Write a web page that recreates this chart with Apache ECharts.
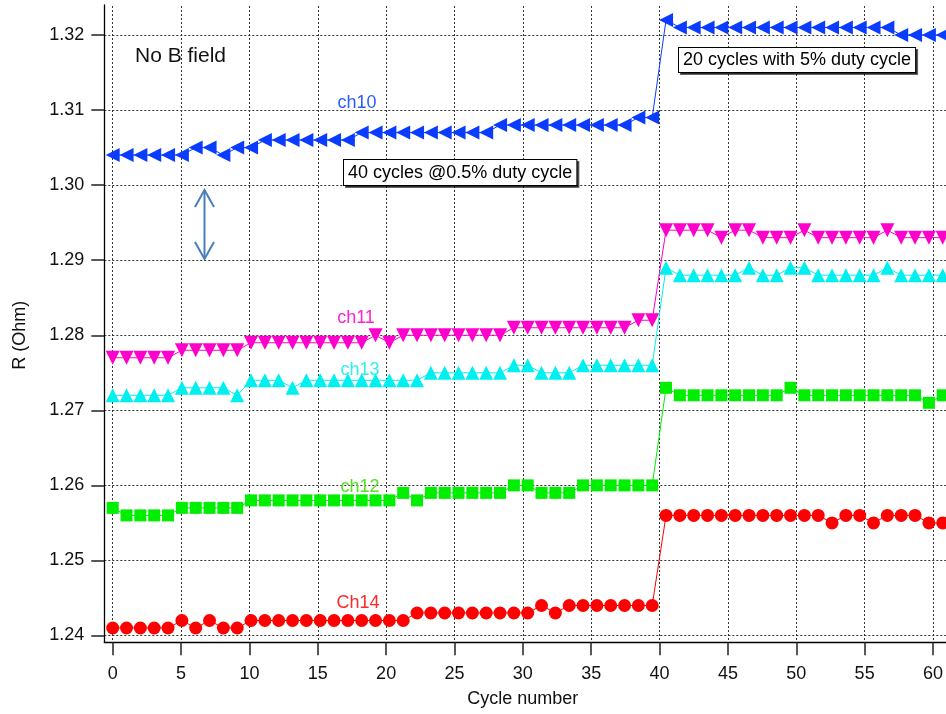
<!DOCTYPE html>
<html>
<head>
<meta charset="utf-8">
<script src="https://cdn.jsdelivr.net/npm/echarts@6/dist/echarts.min.js"></script>
<style>
html,body{margin:0;padding:0;background:#fff;}
#chart{width:946px;height:714px;}
</style>
</head>
<body>
<div id="chart"></div>
<script>
const cycles = [0,1,2,3,4,5,6,7,8,9,10,11,12,13,14,15,16,17,18,19,20,21,22,23,24,25,26,27,28,29,30,31,32,33,34,35,36,37,38,39,40,41,42,43,44,45,46,47,48,49,50,51,52,53,54,55,56,57,58,59,60];

const ch10 = [1.304,1.304,1.304,1.304,1.304,1.304,1.305,1.305,1.304,1.305,
              1.305,1.306,1.306,1.306,1.306,1.306,1.306,1.306,1.307,1.307,
              1.307,1.307,1.307,1.307,1.307,1.307,1.307,1.307,1.308,1.308,
              1.308,1.308,1.308,1.308,1.308,1.308,1.308,1.308,1.309,1.309,
              1.322,1.321,1.321,1.321,1.321,1.321,1.321,1.321,1.321,1.321,
              1.321,1.321,1.321,1.321,1.321,1.321,1.321,1.320,1.320,1.320,1.320];

const ch11 = [1.277,1.277,1.277,1.277,1.277,1.278,1.278,1.278,1.278,1.278,
              1.279,1.279,1.279,1.279,1.279,1.279,1.279,1.279,1.279,1.280,
              1.279,1.280,1.280,1.280,1.280,1.280,1.280,1.280,1.280,1.281,
              1.281,1.281,1.281,1.281,1.281,1.281,1.281,1.281,1.282,1.282,
              1.294,1.294,1.294,1.294,1.293,1.294,1.294,1.293,1.293,1.293,
              1.294,1.293,1.293,1.293,1.293,1.293,1.294,1.293,1.293,1.293,1.293];

const ch13 = [1.272,1.272,1.272,1.272,1.272,1.273,1.273,1.273,1.273,1.272,
              1.274,1.274,1.274,1.273,1.274,1.274,1.274,1.274,1.274,1.274,
              1.274,1.274,1.274,1.275,1.275,1.275,1.275,1.275,1.275,1.276,
              1.276,1.275,1.275,1.275,1.276,1.276,1.276,1.276,1.276,1.276,
              1.289,1.288,1.288,1.288,1.288,1.288,1.289,1.288,1.288,1.289,
              1.289,1.288,1.288,1.288,1.288,1.288,1.289,1.288,1.288,1.288,1.288];

const ch12 = [1.257,1.256,1.256,1.256,1.256,1.257,1.257,1.257,1.257,1.257,
              1.258,1.258,1.258,1.258,1.258,1.258,1.258,1.258,1.258,1.258,
              1.258,1.259,1.258,1.259,1.259,1.259,1.259,1.259,1.259,1.260,
              1.260,1.259,1.259,1.259,1.260,1.260,1.260,1.260,1.260,1.260,
              1.273,1.272,1.272,1.272,1.272,1.272,1.272,1.272,1.272,1.273,
              1.272,1.272,1.272,1.272,1.272,1.272,1.272,1.272,1.272,1.271,1.272];

const ch14 = [1.241,1.241,1.241,1.241,1.241,1.242,1.241,1.242,1.241,1.241,
              1.242,1.242,1.242,1.242,1.242,1.242,1.242,1.242,1.242,1.242,
              1.242,1.242,1.243,1.243,1.243,1.243,1.243,1.243,1.243,1.243,
              1.243,1.244,1.243,1.244,1.244,1.244,1.244,1.244,1.244,1.244,
              1.256,1.256,1.256,1.256,1.256,1.256,1.256,1.256,1.256,1.256,
              1.256,1.256,1.255,1.256,1.256,1.255,1.256,1.256,1.256,1.255,1.255];

const xTickLabels = ['0','5','10','15','20','25','30','35','40','45','50','55','60'];
const yTickLabels = ['1.24','1.25','1.26','1.27','1.28','1.29','1.30','1.31','1.32'];

const FONT = '"Liberation Sans", Arial, sans-serif';
const gridLine = { show: true, lineStyle: { color: '#333', width: 1, type: [2, 2] } };

function pts(vals) { return cycles.map((c, i) => [c, vals[i]]); }

const chart = echarts.init(document.getElementById('chart'), null, { renderer: 'canvas' });

function mkSeries(name, vals, color, symbol, rotate, size) {
  return {
    name: name, type: 'line', xAxisIndex: 0, yAxisIndex: 0,
    data: pts(vals), symbol: symbol, symbolRotate: rotate, symbolSize: size,
    showAllSymbol: true, clip: false,
    lineStyle: { color: color, width: 1 },
    itemStyle: { color: color },
    emphasis: { disabled: true }, z: 5
  };
}

const option = {
  animation: false,
  backgroundColor: '#fff',
  textStyle: { fontFamily: FONT },
  grid: [
    { left: 112.7, right: 3.3, top: 35, bottom: 78.5 },   // data
    { left: 112.7, right: 3.3, top: 6, bottom: 71.7 },    // vertical grid + x ticks
    { left: 104.3, right: 0, top: 35, bottom: 78.5 },     // horizontal grid + y ticks
    { left: 104.3, right: -3, top: 5, bottom: 71.7 }      // frame
  ],
  xAxis: [
    { gridIndex: 0, type: 'value', min: 0, max: 60, interval: 5,
      axisLine: { show: false }, axisTick: { show: false }, axisLabel: { show: false }, splitLine: { show: false } },
    { gridIndex: 1, type: 'value', min: 0, max: 60, interval: 5,
      axisLine: { show: false },
      axisTick: { show: true, length: 13, lineStyle: { color: '#222', width: 1.5 } },
      axisLabel: { show: true, margin: 23, fontSize: 18, color: '#111', fontFamily: FONT,
                   formatter: function (v) { return xTickLabels[Math.round(v / 5)]; } },
      splitLine: gridLine,
      name: 'Cycle number', nameLocation: 'middle', nameGap: 48,
      nameTextStyle: { fontSize: 18, color: '#111', fontFamily: FONT } },
    { gridIndex: 2, type: 'value', min: 0, max: 1,
      axisLine: { show: false }, axisTick: { show: false }, axisLabel: { show: false }, splitLine: { show: false } },
    { gridIndex: 3, type: 'value', min: 0, max: 1,
      axisLine: { show: true, onZero: false, lineStyle: { color: '#000', width: 1.3 } },
      axisTick: { show: false }, axisLabel: { show: false }, splitLine: { show: false } }
  ],
  yAxis: [
    { gridIndex: 0, type: 'value', min: 1.24, max: 1.32, interval: 0.01,
      axisLine: { show: false }, axisTick: { show: false }, axisLabel: { show: false }, splitLine: { show: false } },
    { gridIndex: 1, type: 'value', min: 0, max: 1,
      axisLine: { show: false }, axisTick: { show: false }, axisLabel: { show: false }, splitLine: { show: false } },
    { gridIndex: 2, type: 'value', min: 1.24, max: 1.32, interval: 0.01,
      axisLine: { show: false },
      axisTick: { show: true, length: 13, lineStyle: { color: '#222', width: 1.5 } },
      axisLabel: { show: true, margin: 20, fontSize: 18, color: '#111', fontFamily: FONT,
                   formatter: function (v) { return yTickLabels[Math.round((v - 1.24) / 0.01)]; } },
      splitLine: gridLine,
      name: 'R (Ohm)', nameLocation: 'middle', nameGap: 75,
      nameTextStyle: { fontSize: 18, color: '#111', fontFamily: FONT } },
    { gridIndex: 3, type: 'value', min: 0, max: 1,
      axisLine: { show: true, onZero: false, lineStyle: { color: '#000', width: 1.3 } },
      axisTick: { show: false }, axisLabel: { show: false }, splitLine: { show: false } }
  ],
  series: [
    mkSeries('ch14', ch14, '#ff0000', 'circle', 0, 13),
    mkSeries('ch12', ch12, '#00ee00', 'rect', 0, 12),
    mkSeries('ch13', ch13, '#00f0f0', 'triangle', 0, 14),
    mkSeries('ch11', ch11, '#ff00cc', 'triangle', 180, 14),
    mkSeries('ch10', ch10, '#0a3cff', 'triangle', 90, 14)
  ],
  graphic: [
    { type: 'text', z: 10, style: { text: 'No B field', x: 135, y: 56, textAlign: 'left', textVerticalAlign: 'middle', align: 'left', verticalAlign: 'middle', font: '21px ' + FONT, fill: '#111' } },
    { type: 'text', z: 10, style: { text: 'ch10', x: 357, y: 103, textAlign: 'center', textVerticalAlign: 'middle', align: 'center', verticalAlign: 'middle', font: '18px ' + FONT, fill: '#2a5cff' } },
    { type: 'text', z: 10, style: { text: 'ch11', x: 356, y: 318, textAlign: 'center', textVerticalAlign: 'middle', align: 'center', verticalAlign: 'middle', font: '18px ' + FONT, fill: '#ff22cc' } },
    { type: 'text', z: 10, style: { text: 'ch13', x: 360, y: 370, textAlign: 'center', textVerticalAlign: 'middle', align: 'center', verticalAlign: 'middle', font: '18px ' + FONT, fill: '#2ef0f0' } },
    { type: 'text', z: 10, style: { text: 'ch12', x: 360, y: 487, textAlign: 'center', textVerticalAlign: 'middle', align: 'center', verticalAlign: 'middle', font: '18px ' + FONT, fill: '#55e022' } },
    { type: 'text', z: 10, style: { text: 'Ch14', x: 358, y: 603, textAlign: 'center', textVerticalAlign: 'middle', align: 'center', verticalAlign: 'middle', font: '18px ' + FONT, fill: '#ff2a2a' } },
    { type: 'text', z: 10, style: { text: '40 cycles @0.5% duty cycle', x: 344, y: 160, textAlign: 'left', textVerticalAlign: 'top', align: 'left', verticalAlign: 'top',
        font: '18px ' + FONT, fill: '#000', backgroundColor: '#fff', borderColor: '#000', borderWidth: 1, padding: [4, 4, 3, 4],
        shadowColor: 'rgba(0,0,0,0.6)', shadowOffsetX: 2, shadowOffsetY: 2, shadowBlur: 0 } },
    { type: 'text', z: 10, style: { text: '20 cycles with 5% duty cycle', x: 679, y: 48, textAlign: 'left', textVerticalAlign: 'top', align: 'left', verticalAlign: 'top',
        font: '18px ' + FONT, fill: '#000', backgroundColor: '#fff', borderColor: '#000', borderWidth: 1, padding: [3, 4, 3, 4],
        shadowColor: 'rgba(0,0,0,0.6)', shadowOffsetX: 2, shadowOffsetY: 2, shadowBlur: 0 } },
    { type: 'group', z: 10, children: [
      { type: 'line', shape: { x1: 204.5, y1: 190, x2: 204.5, y2: 259 }, style: { stroke: '#4a7ebb', lineWidth: 2 } },
      { type: 'polyline', shape: { points: [[195, 207], [204.5, 190], [214, 207]] }, style: { stroke: '#4a7ebb', lineWidth: 2, fill: null } },
      { type: 'polyline', shape: { points: [[195, 242], [204.5, 259], [214, 242]] }, style: { stroke: '#4a7ebb', lineWidth: 2, fill: null } }
    ] }
  ]
};
chart.setOption(option);
</script>
</body>
</html>
